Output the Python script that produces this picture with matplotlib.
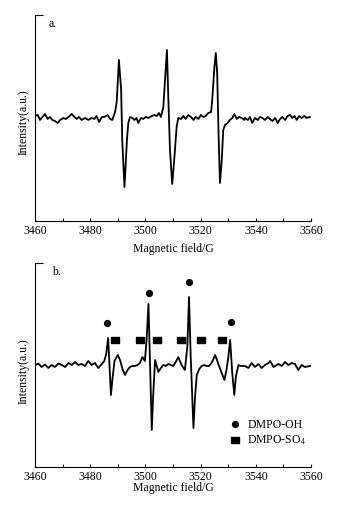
import matplotlib

matplotlib.use("Agg")

import matplotlib.pyplot as plt
from matplotlib.ticker import MultipleLocator

# panel a: DMPO-OH triplet (field in G, intensity in arbitrary units)
FIELD_A = [
    3460, 3461, 3461.8, 3462.7, 3463.6, 3464.6, 3465.4, 3466.3, 3467.2, 3468.2,
    3469.1, 3470.3, 3471.1, 3472.1, 3473.3, 3474.3, 3475.1, 3475.9, 3476.9, 3478.1,
    3479.3, 3480.5, 3481.5, 3482.3, 3483.2, 3484.2, 3485.1, 3486.3, 3487.2, 3488.0,
    3489.0, 3489.6, 3490.4, 3491.2, 3491.6, 3492.4, 3492.8, 3493.3, 3493.8, 3494.4,
    3495.3, 3496.0, 3496.8, 3497.4, 3498.4, 3499.2, 3500.1, 3501.1, 3502.3, 3503.2,
    3504.1, 3504.9, 3505.6, 3506.5, 3507.1, 3507.8, 3508.3, 3508.9, 3509.7, 3510.2,
    3510.7, 3511.3, 3511.9, 3512.9, 3513.7, 3514.6, 3515.5, 3516.5, 3517.4, 3518.2,
    3519.2, 3520.1, 3521.0, 3521.8, 3522.8, 3523.8, 3524.2, 3525.0, 3525.5, 3526.0,
    3526.4, 3527.0, 3527.6, 3528.2, 3528.8, 3529.8, 3530.6, 3531.5, 3532.2, 3533.1,
    3533.9, 3534.9, 3535.8, 3536.1, 3537.1, 3537.9, 3538.7, 3539.7, 3540.7, 3541.5,
    3542.4, 3543.3, 3544.3, 3545.1, 3546.0, 3547.0, 3547.9, 3548.8, 3549.6, 3550.6,
    3551.5, 3552.4, 3553.2, 3554.0, 3554.8, 3555.7, 3556.6, 3557.6, 3558.4, 3559.6,
]
SIGNAL_A = [
    2, 3, -2, 1, 4, -1, 1, -2, -3, -5,
    -2, 0, -1, 1, 4, 1, -1, 1, -2, 0,
    -2, 0, -1, 2, -4, 1, 1, 3, -1, -2,
    6, 16, 58, 28, -22, -69, -49, -22, -5, 1,
    0, -2, 0, -5, 0, -1, 1, 0, 2, 3,
    2, 5, 1, 11, 38, 68, 20, -32, -66, -50,
    -32, -9, 0, -1, 2, -1, 3, 1, -2, 1,
    -1, 3, 1, 2, 5, 6, 18, 51, 65, 45,
    -5, -65, -45, -12, -7, -5, -2, 0, 4, -1,
    1, 0, -2, 0, -2, 1, -5, 0, -2, 1,
    0, -2, 1, -1, -3, 0, -5, -1, 1, -2,
    2, 3, 0, 2, -2, 2, 0, 2, 0, 1,
]

# panel b: DMPO-OH + DMPO-SO4 adducts
FIELD_B = [
    3460, 3461.2, 3462.4, 3463.6, 3464.8, 3466, 3467.2, 3468.5, 3469.7, 3470.9,
    3472.1, 3473.3, 3474.5, 3475.7, 3476.9, 3478.1, 3479.3, 3480.5, 3481.7, 3482.9,
    3484.2, 3485.1, 3485.8, 3486.5, 3487.0, 3487.5, 3488.1, 3488.8, 3490.0, 3490.8,
    3491.7, 3492.6, 3493.5, 3494.4, 3495.3, 3496.2, 3497.1, 3498.0, 3498.9, 3499.8,
    3500.4, 3501.1, 3501.6, 3502.3, 3502.8, 3503.5, 3504.1, 3504.7, 3505.6, 3506.5,
    3507.4, 3508.3, 3509.2, 3510.1, 3511.0, 3511.9, 3513.1, 3514.3, 3515.2, 3515.8,
    3516.4, 3517.4, 3518.0, 3518.6, 3519.5, 3520.4, 3521.3, 3522.2, 3523.0, 3523.7,
    3524.5, 3525.2, 3525.8, 3526.4, 3527.5, 3528.6, 3529.3, 3530.0, 3530.7, 3531.4,
    3532.2, 3532.8, 3533.7, 3534.5, 3535.3, 3536.1, 3537.3, 3538.5, 3539.7, 3540.9,
    3542.1, 3543.3, 3544.6, 3545.2, 3546.4, 3548.2, 3549.4, 3550.6, 3551.8, 3553.0,
    3554.2, 3555.4, 3556.6, 3557.8, 3559.6,
]
SIGNAL_B = [
    1, 2.5, -1, 1.5, -2, 1, -1, 2.5, 1, -1,
    3, 1, 4, 1, 2, 0, 5, 1, 3, -2,
    2, 5, 12, 28, 0, -29, -12, 5, 11, 6,
    -3, -9, -4, -1, 0, 0, 1, 3, 9, 5,
    25, 62, 10, -64, -30, 6, 0, -6, -2, 1,
    0, 2, 1, 0, 4, 9, 1, -4, 20, 69,
    10, -62, -30, -9, -3, 0, 1, 0, 0, 2,
    6, 11, 7, 2, -6, -14, -5, 8, 26, -5,
    -29, -10, 1, 0, 0, 0, -2, 3, -1, 2,
    -2, 1, 3, 5, -1, 2, 0, 4, 1, 3,
    2, -4, 1, -1, 0,
]

OH_FIELD = [3486.2, 3501.3, 3515.9, 3531.1]
OH_HEIGHT = [43, 73, 84, 44]
SO4_FIELD = [3489.0, 3498.0, 3504.3, 3512.9, 3520.1, 3527.6]
SO4_HEIGHT = [26, 26, 26, 26, 26, 26]

XTICKS = [3460, 3480, 3500, 3520, 3540, 3560]

plt.rcParams.update(
    {
        "font.family": "Liberation Serif",
        "mathtext.fontset": "stix",
        "font.size": 8.5,
        "axes.linewidth": 0.8,
    }
)

RECT = [(-1.3, -1), (1.3, -1), (1.3, 1), (-1.3, 1), (-1.3, -1)]


def style_axes(ax, ylim, label_y, xlabel_pad):
    ax.set_xlim(3460, 3560)
    ax.set_ylim(*ylim)
    ax.spines["top"].set_visible(False)
    ax.spines["right"].set_visible(False)
    ax.set_xticks(XTICKS)
    ax.set_xticklabels([str(t) for t in XTICKS])
    ax.xaxis.set_minor_locator(MultipleLocator(10))
    ax.tick_params(axis="x", which="both", direction="in", length=2.2, width=0.8, pad=3)
    ax.set_yticks([ylim[1]])
    ax.set_yticklabels([])
    ax.tick_params(axis="y", direction="in", length=6, width=0.8)
    ax.set_xlabel("Magnetic field/G", labelpad=xlabel_pad)
    ax.set_ylabel("Intensity(a.u.)")
    ax.yaxis.set_label_coords(-0.02, label_y)


fig = plt.figure(figsize=(3.38, 5.08), dpi=100)
ax_a = fig.add_axes([0.1036, 0.565, 0.8166, 0.4055])
ax_b = fig.add_axes([0.1036, 0.0807, 0.8166, 0.4016])

ax_a.plot(FIELD_A, SIGNAL_A, color="black", linewidth=1.3)
style_axes(ax_a, (-103, 103), 0.48, 4.5)
ax_a.text(0.05, 0.955, "a.", transform=ax_a.transAxes, ha="left", va="center")

ax_b.plot(FIELD_B, SIGNAL_B, color="black", linewidth=1.3)
ax_b.plot(OH_FIELD, OH_HEIGHT, linestyle="none", marker="o", markersize=4.2,
          color="black", label="DMPO-OH")
ax_b.plot(SO4_FIELD, SO4_HEIGHT, linestyle="none", marker=RECT, markersize=5.8,
          color="black", label="DMPO-SO$_4$")
style_axes(ax_b, (-101, 103), 0.472, -1)
ax_b.text(0.06, 0.955, "b.", transform=ax_b.transAxes, ha="left", va="center")

ax_b.legend(loc="center left", bbox_to_anchor=(0.706, 0.165),
            frameon=False, numpoints=1, handlelength=0.9, handletextpad=0.56,
            labelspacing=0.2, borderpad=0, borderaxespad=0)

fig.savefig("out.png", dpi=100)
